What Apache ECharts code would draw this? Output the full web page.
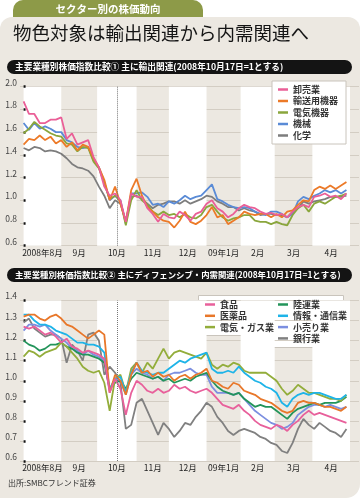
<!DOCTYPE html>
<html><head><meta charset="utf-8">
<script src="https://cdn.jsdelivr.net/npm/echarts@6/dist/echarts.min.js"></script>
<style>
html,body{margin:0;padding:0;background:#fff;}
#wrap{position:relative;width:360px;height:498px;background:#fff;overflow:hidden;}
#panel{position:absolute;left:0;top:17px;width:360px;height:481px;background:#ece8e1;border-radius:12px 12px 14px 0;}
#c{position:absolute;left:0;top:0;width:360px;height:498px;}
</style>
</head><body><div id="wrap"><div id="panel"></div><div id="c"></div></div>
<script>
// ---- data ----
const months = ['2008年8月','9月','10月','11月','12月','09年1月','2月','3月','4月'];
const monthDays = [21,20,22,18,21,19,19,21,21];   // trading days per month
const step = 3;        // one value every 3 trading days
const refDay = 52;     // 2008-10-17 (trading-day index)

const names1 = ['卸売業','輸送用機器','電気機器','機械','化学'];
const oroshi = [1.87,1.76,1.76,1.68,1.68,1.71,1.71,1.73,1.54,1.59,1.49,1.51,1.53,1.38,1.29,1.12,1.04,1.06,1.00,0.81,1.06,1.03,1.03,0.93,0.88,0.81,0.88,0.85,0.84,0.90,0.87,0.82,0.88,0.90,0.97,1.00,0.93,0.90,0.85,0.88,0.93,0.96,0.94,0.93,0.90,0.88,0.89,0.87,0.88,0.85,0.90,0.94,0.96,0.94,1.03,1.04,1.06,1.03,1.04,1.01,1.06];
const yuso = [1.49,1.54,1.53,1.57,1.53,1.56,1.50,1.53,1.47,1.51,1.44,1.49,1.47,1.37,1.29,1.18,1.00,1.12,0.97,0.81,1.09,1.19,1.04,0.94,0.90,0.85,0.82,0.81,0.76,0.82,0.90,0.81,0.79,0.82,0.87,0.94,0.85,0.87,0.79,0.82,0.85,0.90,0.88,0.87,0.88,0.88,0.85,0.88,0.85,0.90,0.91,0.96,1.00,0.99,1.09,1.12,1.10,1.13,1.10,1.13,1.16];
const denki = [1.59,1.63,1.69,1.65,1.62,1.59,1.57,1.56,1.50,1.49,1.43,1.47,1.46,1.34,1.28,1.15,1.01,1.04,0.99,0.78,1.00,1.09,1.00,0.96,0.90,0.87,0.90,0.87,0.88,0.85,0.88,0.85,0.84,0.87,0.94,0.96,0.90,0.85,0.82,0.84,0.85,0.87,0.87,0.82,0.81,0.81,0.79,0.81,0.79,0.78,0.87,0.93,0.96,0.90,0.97,0.99,0.97,1.00,1.03,1.04,1.06];
const kikai = [1.68,1.62,1.68,1.63,1.65,1.63,1.60,1.60,1.53,1.51,1.47,1.46,1.47,1.35,1.29,1.16,1.00,1.04,1.00,0.79,1.06,1.06,1.07,1.03,0.96,0.97,0.94,0.99,0.97,1.00,1.04,1.01,1.03,1.04,1.09,1.14,1.01,0.99,0.96,0.94,0.93,0.94,0.93,0.90,0.88,0.87,0.90,0.90,0.88,0.85,0.88,0.99,1.03,1.01,1.04,1.06,1.09,1.07,1.09,1.06,1.09];
const kagaku = [1.46,1.44,1.47,1.46,1.43,1.44,1.43,1.41,1.37,1.32,1.29,1.28,1.26,1.21,1.12,1.04,0.93,1.00,0.97,0.82,1.03,1.04,1.01,0.97,0.93,0.96,0.97,0.99,0.99,0.97,1.00,0.97,0.99,1.01,1.04,1.03,0.99,0.97,0.94,0.94,0.91,0.93,0.91,0.90,0.87,0.88,0.88,0.87,0.87,0.85,0.90,0.93,0.99,0.97,0.99,1.00,1.01,1.03,1.03,1.03,1.04];

const names2a = ['食品','医薬品','電気・ガス業'];
const names2b = ['陸運業','情報・通信業','小売り業','銀行業'];
const shokuhin = [1.27,1.26,1.27,1.25,1.23,1.24,1.22,1.19,1.21,1.17,1.16,1.14,1.15,1.14,1.13,1.11,0.94,1.01,0.96,0.83,0.94,1.00,0.98,0.95,0.94,0.96,0.94,0.95,0.98,0.96,0.97,0.95,0.94,0.95,0.96,0.94,0.91,0.88,0.87,0.86,0.88,0.85,0.83,0.80,0.78,0.77,0.76,0.78,0.77,0.75,0.78,0.80,0.83,0.85,0.83,0.84,0.83,0.82,0.81,0.80,0.79];
const iyaku = [1.32,1.33,1.33,1.31,1.30,1.32,1.33,1.31,1.28,1.27,1.25,1.23,1.21,1.23,1.25,1.23,0.94,1.03,1.00,0.93,1.03,1.09,1.04,1.05,1.02,1.04,1.02,1.03,1.00,1.02,1.03,1.01,1.03,1.04,1.06,1.00,0.99,0.97,0.96,0.99,0.98,0.95,0.94,0.93,0.91,0.90,0.89,0.87,0.85,0.84,0.85,0.89,0.90,0.89,0.89,0.88,0.87,0.87,0.86,0.85,0.87];
const denkigas = [1.12,1.15,1.14,1.12,1.14,1.15,1.16,1.19,1.17,1.14,1.11,1.07,1.05,1.04,1.05,0.99,0.85,1.01,1.03,0.94,1.06,1.09,1.04,1.09,1.06,1.11,1.16,1.11,1.14,1.15,1.14,1.13,1.12,1.11,1.14,1.08,1.06,1.08,1.07,1.09,1.08,1.05,1.04,1.04,1.04,1.04,1.02,1.00,0.96,0.93,0.95,0.98,0.96,0.94,0.94,0.93,0.92,0.91,0.91,0.90,0.93];
const rikuun = [1.20,1.18,1.17,1.15,1.16,1.18,1.18,1.19,1.17,1.16,1.14,1.13,1.13,1.12,1.11,1.09,0.96,0.99,1.00,0.96,1.01,1.04,1.03,1.02,1.01,1.02,1.00,1.01,0.99,1.00,1.01,1.00,1.02,1.03,1.04,1.00,0.97,0.95,0.94,0.93,0.94,0.91,0.89,0.87,0.88,0.87,0.87,0.85,0.83,0.81,0.84,0.86,0.87,0.88,0.89,0.88,0.89,0.89,0.89,0.90,0.92];
const joho = [1.33,1.33,1.30,1.28,1.28,1.27,1.25,1.24,1.23,1.21,1.19,1.19,1.18,1.18,1.17,1.14,0.96,1.01,1.02,0.94,1.04,1.09,1.05,1.04,1.03,1.04,1.04,1.06,1.08,1.10,1.09,1.11,1.12,1.13,1.14,1.06,1.04,1.04,1.05,1.04,1.07,1.04,1.02,1.00,0.99,0.97,0.96,0.94,0.89,0.87,0.91,0.93,0.94,0.93,0.94,0.94,0.93,0.92,0.91,0.91,0.93];
const kouri = [1.25,1.28,1.28,1.27,1.28,1.25,1.23,1.21,1.19,1.16,1.15,1.13,1.15,1.13,1.12,1.10,0.95,1.01,1.00,0.93,1.03,1.06,1.04,1.03,1.01,1.02,1.00,1.03,1.04,1.04,1.05,1.06,1.04,1.03,1.03,0.97,0.94,0.94,0.94,0.93,0.94,0.91,0.88,0.85,0.83,0.81,0.79,0.78,0.76,0.77,0.79,0.83,0.85,0.87,0.88,0.88,0.87,0.88,0.87,0.86,0.87];
const ginko = [1.29,1.31,1.26,1.24,1.22,1.23,1.23,1.21,1.09,1.18,1.15,1.10,1.23,1.24,1.20,1.03,1.07,1.04,0.99,0.76,0.78,0.89,0.91,0.85,0.79,0.73,0.79,0.76,0.72,0.75,0.79,0.78,0.82,0.85,0.89,0.87,0.82,0.79,0.75,0.73,0.75,0.76,0.75,0.74,0.72,0.71,0.69,0.68,0.65,0.64,0.69,0.76,0.81,0.78,0.76,0.79,0.77,0.75,0.74,0.72,0.76];

// ---- build ----
const F = '"Noto Sans CJK JP","Noto Sans",sans-serif';
const bounds = [0];
monthDays.forEach(d => bounds.push(bounds[bounds.length - 1] + d));

function bandSeries(gi) {
  return {
    type: 'line', xAxisIndex: gi, yAxisIndex: gi, data: [], z: 0, silent: true,
    markArea: {
      silent: true,
      label: { show: true, position: 'bottom', distance: 3, color: '#222', fontSize: 8.5, fontFamily: F },
      data: months.map((m, i) => [
        { xAxis: bounds[i], name: m, itemStyle: { color: i % 2 === 0 ? '#ffffff' : 'rgba(0,0,0,0)' } },
        { xAxis: bounds[i + 1] }
      ])
    },
    markLine: {
      silent: true, symbol: 'none', label: { show: false },
      lineStyle: { type: 'dotted', color: '#777', width: 1 },
      data: [{ xAxis: refDay }]
    }
  };
}
function lineSeries(name, arr, color, gi) {
  return {
    name, type: 'line', xAxisIndex: gi, yAxisIndex: gi,
    data: arr.map((v, i) => [i * step, v]),
    showSymbol: false, symbol: 'none', z: 2, silent: true,
    lineStyle: { color, width: 1.8 }, itemStyle: { color }
  };
}
function yAxis(gi, min, max, interval) {
  return {
    type: 'value', gridIndex: gi, min, max, interval, z: 1,
    axisLine: { show: false },
    axisTick: { show: true, inside: true, length: 2, lineStyle: { color: '#111', width: 2.5 } },
    axisLabel: { margin: 3, fontSize: 8.5, color: '#444', fontFamily: F, verticalAlign: 'bottom', formatter: v => v.toFixed(1) },
    splitLine: { show: true, lineStyle: { color: '#d3cdc3', width: 1 } }
  };
}
function xAxis(gi) {
  return { type: 'value', gridIndex: gi, min: -2, max: 187, show: false };
}
const legText = { fontSize: 9, color: '#333', fontFamily: F, fontWeight: 'bold', lineHeight: 9 };

const C1 = { '卸売業': '#ea5f97', '輸送用機器': '#ec7a28', '電気機器': '#8aa63c', '機械': '#5a8bd6', '化学': '#7d7d7d' };
const C2 = { '食品': '#e8609b', '医薬品': '#e8772a', '電気・ガス業': '#93ad3b', '陸運業': '#23945a', '情報・通信業': '#1eb4e8', '小売り業': '#7c8fe0', '銀行業': '#808080' };

const option = {
  animation: false,
  grid: [
    { left: 20, top: 86.7, width: 339, height: 159 },
    { left: 20, top: 300.5, width: 339, height: 160.5 }
  ],
  xAxis: [xAxis(0), xAxis(1)],
  yAxis: [yAxis(0, 0.6, 2.0, 0.2), yAxis(1, 0.6, 1.4, 0.1)],
  legend: [
    { data: names1, orient: 'vertical', left: 272, top: 81, z: 20, icon: 'rect', itemWidth: 10, itemHeight: 2.5, itemGap: 2.5,
      backgroundColor: '#fff', borderColor: '#c9c4bc', borderWidth: 1, borderRadius: 0, padding: [4, 8, 4, 6],
      textStyle: legText, selectedMode: false },
    { data: names2a, orient: 'vertical', left: 205, top: 300, z: 20, icon: 'rect', itemWidth: 10, itemHeight: 2.5, itemGap: 2.3,
      padding: 0, textStyle: legText, selectedMode: false },
    { data: names2b, orient: 'vertical', left: 278, top: 300, z: 20, icon: 'rect', itemWidth: 10, itemHeight: 2.5, itemGap: 2.3,
      padding: 0, textStyle: legText, selectedMode: false }
  ],
  graphic: {
    z: 10,
    elements: [
      { type: 'rect', shape: { x: 13, y: 0, width: 190, height: 17, r: [10, 10, 0, 0] }, style: { fill: '#8d9a48' } },
      { type: 'text', x: 108, y: 9, style: { text: 'セクター別の株価動向', fill: '#fff', font: 'bold 10.5px ' + F, align: 'center', verticalAlign: 'middle' } },
      { type: 'text', x: 13, y: 33, style: { text: '物色対象は輸出関連から内需関連へ', fill: '#151515', font: '18.5px ' + F, verticalAlign: 'middle' } },
      { type: 'rect', shape: { x: 7, y: 60, width: 345, height: 14, r: 7 }, style: { fill: '#141414' } },
      { type: 'text', x: 15, y: 67, style: { text: '主要業種別株価指数比較① 主に輸出関連(2008年10月17日=1とする)', fill: '#fff', font: 'bold 8.7px ' + F, verticalAlign: 'middle' } },
      { type: 'rect', shape: { x: 7, y: 268, width: 345, height: 14, r: 7 }, style: { fill: '#141414' } },
      { type: 'text', x: 15, y: 275, style: { text: '主要業種別株価指数比較② 主にディフェンシブ・内需関連(2008年10月17日=1とする)', fill: '#fff', font: 'bold 8.4px ' + F, verticalAlign: 'middle' } },
      { type: 'polygon', shape: { points: [[198.5, 295.5], [343.5, 295.5], [343.5, 347.5], [268.5, 347.5], [268.5, 335.5], [198.5, 335.5]] },
        style: { fill: '#fff', stroke: '#c9c4bc', lineWidth: 1 } },
      { type: 'text', x: 8, y: 483, style: { text: '出所:SMBCフレンド証券', fill: '#333', font: '8px ' + F, verticalAlign: 'middle' } }
    ]
  },
  series: [
    bandSeries(0),
    lineSeries('化学', kagaku, C1['化学'], 0),
    lineSeries('機械', kikai, C1['機械'], 0),
    lineSeries('電気機器', denki, C1['電気機器'], 0),
    lineSeries('輸送用機器', yuso, C1['輸送用機器'], 0),
    lineSeries('卸売業', oroshi, C1['卸売業'], 0),
    bandSeries(1),
    lineSeries('銀行業', ginko, C2['銀行業'], 1),
    lineSeries('小売り業', kouri, C2['小売り業'], 1),
    lineSeries('陸運業', rikuun, C2['陸運業'], 1),
    lineSeries('電気・ガス業', denkigas, C2['電気・ガス業'], 1),
    lineSeries('情報・通信業', joho, C2['情報・通信業'], 1),
    lineSeries('医薬品', iyaku, C2['医薬品'], 1),
    lineSeries('食品', shokuhin, C2['食品'], 1)
  ]
};
const chart = echarts.init(document.getElementById('c'), null, { renderer: 'canvas' });
chart.setOption(option);
</script>
</body></html>
